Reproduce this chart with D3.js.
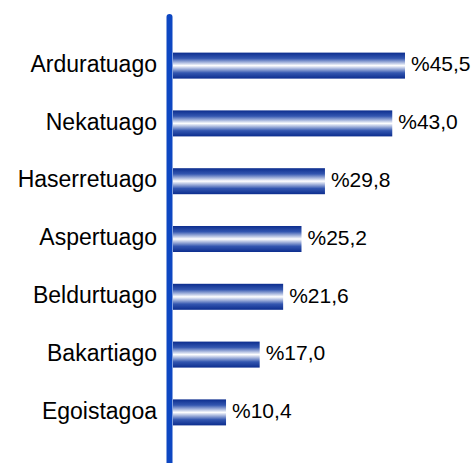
<!DOCTYPE html>
<html>
<head>
<meta charset="utf-8">
<script src="https://cdn.jsdelivr.net/npm/d3@7"></script>
<style>
  body { margin: 0; background: #fff; }
  text { font-family: Arial, "Liberation Sans", sans-serif; fill: #000; }
</style>
</head>
<body>
<svg id="chart" width="475" height="463"></svg>
<script>
const categories = ['Arduratuago', 'Nekatuago', 'Haserretuago', 'Aspertuago', 'Beldurtuago', 'Bakartiago', 'Egoistagoa'];
const values = [45.5, 43.0, 29.8, 25.2, 21.6, 17.0, 10.4];

const svg = d3.select('#chart');
const margin = {left: 173, top: 37, bottom: 20};

const x = d3.scaleLinear().domain([0, 45.5]).range([margin.left, 405]);
const y = d3.scaleBand().domain(categories).range([margin.top, 441]).paddingInner(0.55).paddingOuter(0.27);

// bar shading: dark blue top and bottom, white stripe in the middle
const grad = svg.append('defs').append('linearGradient')
    .attr('id', 'barShade')
    .attr('x1', 0).attr('y1', 0).attr('x2', 0).attr('y2', 1);
[[0, '#0c2d8e'], [0.22, '#3356b0'], [0.5, '#ffffff'], [0.78, '#3356b0'], [1, '#0c2d8e']]
    .forEach(s => grad.append('stop').attr('offset', s[0]).attr('stop-color', s[1]));

svg.selectAll('rect.bar')
    .data(values)
    .enter().append('rect')
    .attr('class', 'bar')
    .attr('x', x(0))
    .attr('y', (d, i) => y(categories[i]))
    .attr('width', d => x(d) - x(0))
    .attr('height', y.bandwidth())
    .attr('fill', 'url(#barShade)');

svg.selectAll('text.value')
    .data(values)
    .enter().append('text')
    .attr('class', 'value')
    .attr('x', d => x(d) + 6)
    .attr('y', (d, i) => y(categories[i]) + y.bandwidth() / 2)
    .attr('dy', '0.28em')
    .style('font-size', '21px')
    .text(d => '%' + d.toFixed(1).replace('.', ','));

svg.selectAll('text.cat')
    .data(categories)
    .enter().append('text')
    .attr('class', 'cat')
    .attr('x', 157)
    .attr('y', d => y(d) + y.bandwidth() / 2)
    .attr('dy', '0.27em')
    .attr('text-anchor', 'end')
    .style('font-size', '23px')
    .text(d => d);

// vertical axis line
svg.append('line')
    .attr('x1', 169.5).attr('x2', 169.5)
    .attr('y1', 17).attr('y2', 470)
    .attr('stroke', '#0d47c2')
    .attr('stroke-width', 6)
    .attr('stroke-linecap', 'round');
</script>
</body>
</html>
